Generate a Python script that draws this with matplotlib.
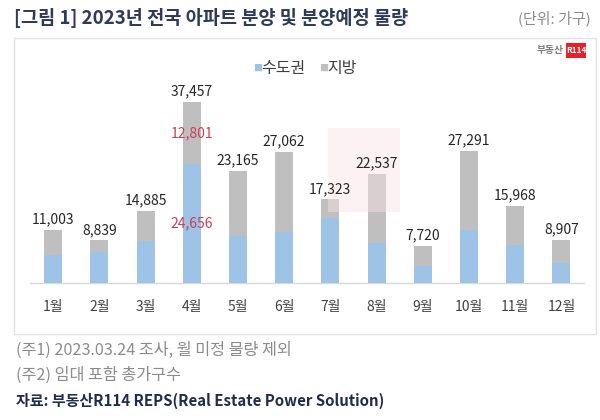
import matplotlib
matplotlib.use("Agg")
import matplotlib.pyplot as plt
from matplotlib.patches import Rectangle
import numpy as np

plt.rcParams['font.family'] = ['Noto Sans CJK KR', 'DejaVu Sans']

months = ['1월', '2월', '3월', '4월', '5월', '6월', '7월', '8월', '9월', '10월', '11월', '12월']
totals = [11003, 8839, 14885, 37457, 23165, 27062, 17323, 22537, 7720, 27291, 15968, 8907]
capital = [5800, 6400, 8700, 24656, 9700, 10500, 13400, 8300, 3500, 11000, 7900, 4100]
local = [t - c for t, c in zip(totals, capital)]
highlight_month = '4월'

title = '[그림 1] 2023년 전국 아파트 분양 및 분양예정 물량'
unit = '(단위: 가구)'
legend_labels = ['수도권', '지방']
notes = ['(주1) 2023.03.24 조사, 월 미정 물량 제외', '(주2) 임대 포함 총가구수']
source = '자료: 부동산R114 REPS(Real Estate Power Solution)'

BLUE = '#9DC3E6'
GRAY = '#BFBFBF'
RED = '#C9404F'
W, H = 600, 420

fig = plt.figure(figsize=(6, 4.2), dpi=100)
fig.patch.set_facecolor('white')

def fx(x):
    return x / W

def fy(y):
    return 1 - y / H

# chart box
fig.patches.append(Rectangle((fx(14), fy(334)), fx(596) - fx(14), fy(38) - fy(334),
                             transform=fig.transFigure, facecolor='white',
                             edgecolor='#E3E3E3', linewidth=1.0, zorder=-1))

# axes: x from -0.5..11.5 mapped to px 30..584.5, baseline at y=283
ax = fig.add_axes([fx(30), fy(283), fx(584.5) - fx(30), fy(80) - fy(283)])
ax.set_facecolor('none')
ax.set_xlim(-0.5, 11.5)
ax.set_ylim(0, 41977)

x = np.arange(len(months))
bw = 0.39
ax.bar(x, capital, width=bw, color=BLUE, zorder=3)
ax.bar(x, local, width=bw, bottom=capital, color=GRAY, zorder=3)

# watermark (faint)
ax.add_patch(Rectangle((5.95, 14700), 1.56, 17400, facecolor='#F9E3E5', edgecolor='none',
                       alpha=0.45, zorder=4))

for i, (t, c, l) in enumerate(zip(totals, capital, local)):
    ax.text(i, t + 700, f'{t:,}', ha='center', va='bottom', fontsize=10, color='#262626', zorder=6)
    if months[i] == highlight_month:
        ax.text(i, c + l / 2, f'{l:,}', ha='center', va='center', fontsize=10, color=RED, zorder=6)
        ax.text(i, c / 2, f'{c:,}', ha='center', va='center', fontsize=10, color=RED, zorder=6)

for s in ['top', 'right', 'left']:
    ax.spines[s].set_visible(False)
ax.spines['bottom'].set_color('#D9D9D9')
ax.spines['bottom'].set_linewidth(1.0)
ax.set_yticks([])
ax.set_xticks(x)
ax.set_xticklabels(months, fontsize=10, color='#404040')
ax.tick_params(axis='x', length=0, pad=12)

# legend
fig.text(fx(253), fy(68), '■', fontsize=6.5, color=BLUE, ha='left', va='center')
fig.text(fx(261), fy(68), legend_labels[0], fontsize=11.5, color='#404040', ha='left', va='center')
fig.text(fx(319), fy(68), '■', fontsize=6.5, color=GRAY, ha='left', va='center')
fig.text(fx(327), fy(68), legend_labels[1], fontsize=11.5, color='#404040', ha='left', va='center')

# logo
fig.text(fx(564), fy(50), '부동산', fontsize=7, color='#7F7F7F', ha='right', va='center',
         fontweight='bold')
fig.patches.append(Rectangle((fx(566), fy(58)), fx(20), fy(43) - fy(58), transform=fig.transFigure,
                             facecolor='#E8202A', edgecolor='none'))
fig.text(fx(576), fy(50.5), 'R114', fontsize=6, color='white', ha='center', va='center',
         fontweight='bold')

# title
fig.text(fx(14), fy(18), title, fontsize=13.4, fontweight='bold', color='#2E3A59',
         ha='left', va='center')
fig.text(fx(591), fy(18), unit, fontsize=10.8, color='#8C8C8C', ha='right', va='center')

# notes
fig.text(fx(16), fy(350), notes[0], fontsize=11.7, color='#8C8C8C', ha='left', va='center')
fig.text(fx(16), fy(375), notes[1], fontsize=11.7, color='#8C8C8C', ha='left', va='center')
fig.text(fx(16), fy(401), source, fontsize=10.8, color='#1F2D4D', fontweight='bold',
         ha='left', va='center')

fig.savefig('out.png', dpi=100, facecolor='white')
